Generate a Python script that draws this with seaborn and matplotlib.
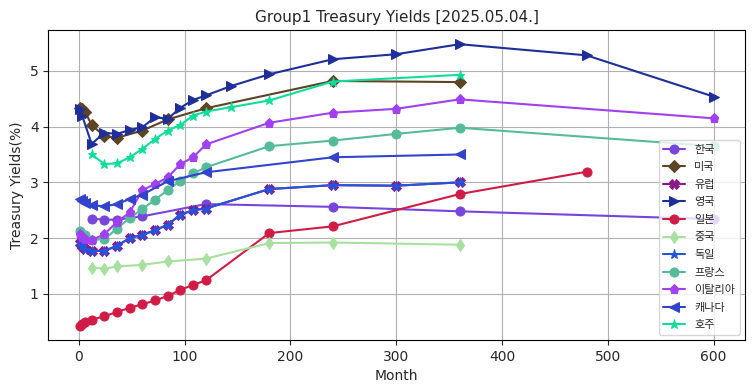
import matplotlib
matplotlib.use("Agg")
import matplotlib.pyplot as plt
import seaborn as sns

sns.set_style("white")
plt.rcParams['font.family'] = ['DejaVu Sans', 'Noto Sans CJK KR']

# months / yields (%) per country
kr_m = [12, 24, 36, 60, 120, 240, 360, 600]
kr_y = [2.35, 2.33, 2.33, 2.39, 2.61, 2.56, 2.48, 2.34]

us_m = [1, 3, 6, 12, 24, 36, 60, 84, 120, 240, 360]
us_y = [4.33, 4.31, 4.26, 4.03, 3.83, 3.80, 3.93, 4.13, 4.33, 4.82, 4.80]

de_m = [1, 3, 6, 12, 24, 36, 48, 60, 72, 84, 96, 108, 120, 180, 240, 300, 360]
de_y = [1.91, 1.86, 1.81, 1.77, 1.77, 1.86, 2.00, 2.06, 2.14, 2.24, 2.42, 2.50, 2.53, 2.88, 2.95, 2.94, 3.00]
eu_m = de_m
eu_y = de_y

uk_m = [1, 3, 12, 24, 36, 48, 60, 72, 84, 96, 108, 120, 144, 180, 240, 300, 360, 480, 600]
uk_y = [4.32, 4.20, 3.69, 3.89, 3.87, 3.94, 3.99, 4.17, 4.14, 4.34, 4.48, 4.56, 4.73, 4.94, 5.21, 5.30, 5.48, 5.28, 4.54]

jp_m = [1, 3, 6, 12, 24, 36, 48, 60, 72, 84, 96, 108, 120, 180, 240, 360, 480]
jp_y = [0.42, 0.45, 0.49, 0.53, 0.60, 0.67, 0.75, 0.81, 0.88, 0.96, 1.07, 1.16, 1.24, 2.09, 2.21, 2.79, 3.19]

cn_m = [12, 24, 36, 60, 84, 120, 180, 240, 360]
cn_y = [1.47, 1.45, 1.49, 1.52, 1.58, 1.63, 1.91, 1.92, 1.88]

fr_m = [1, 6, 12, 24, 36, 48, 60, 72, 84, 96, 108, 120, 180, 240, 300, 360, 600]
fr_y = [2.13, 2.05, 1.97, 1.98, 2.17, 2.36, 2.52, 2.69, 2.86, 3.03, 3.16, 3.27, 3.65, 3.75, 3.87, 3.98, 3.65]

it_m = [1, 3, 6, 12, 24, 36, 48, 60, 72, 84, 96, 108, 120, 180, 240, 300, 360, 600]
it_y = [2.08, 2.02, 1.98, 1.96, 2.07, 2.29, 2.46, 2.86, 2.97, 3.09, 3.33, 3.45, 3.68, 4.07, 4.25, 4.32, 4.49, 4.15]

ca_m = [1, 3, 6, 12, 24, 36, 48, 60, 84, 120, 240, 360]
ca_y = [2.71, 2.67, 2.63, 2.59, 2.57, 2.61, 2.70, 2.78, 3.02, 3.18, 3.45, 3.50]

au_m = [12, 24, 36, 48, 60, 72, 84, 96, 108, 120, 144, 180, 240, 360]
au_y = [3.50, 3.33, 3.34, 3.45, 3.60, 3.78, 3.93, 4.03, 4.20, 4.27, 4.35, 4.47, 4.81, 4.93]

series = [
    ('한국', kr_m, kr_y, '#7744dd', 'o'),
    ('미국', us_m, us_y, '#5c4425', 'D'),
    ('유럽', eu_m, eu_y, '#8b1a8b', 'X'),
    ('영국', uk_m, uk_y, '#1f2f99', '>'),
    ('일본', jp_m, jp_y, '#d01c45', 'o'),
    ('중국', cn_m, cn_y, '#a8e0a0', 'd'),
    ('독일', de_m, de_y, '#2255dd', '*'),
    ('프랑스', fr_m, fr_y, '#55bb99', 'o'),
    ('이탈리아', it_m, it_y, '#a040f0', 'p'),
    ('캐나다', ca_m, ca_y, '#3344cc', '<'),
    ('호주', au_m, au_y, '#11dd99', '*'),
]

fig, ax = plt.subplots(figsize=(7.55, 3.91), dpi=100)
fig.subplots_adjust(left=0.064, right=0.987, bottom=0.130, top=0.923)

for name, m, y, c, mk in series:
    sns.lineplot(x=m, y=y, ax=ax, color=c, marker=mk, markersize=6.5,
                 markeredgecolor=c, linewidth=1.5, label=name)

ax.grid(True, color='#b0b0b0', linewidth=0.8)
ax.set_title('Group1 Treasury Yields [2025.05.04.]', fontsize=11)
ax.set_xlabel('Month', fontsize=10)
ax.set_ylabel('Treasury Yields(%)', fontsize=10)
ax.tick_params(labelsize=10, length=3.5, left=True, bottom=True)
for s in ax.spines.values():
    s.set_color('black')
ax.legend(loc='lower right', fontsize=8, labelspacing=0.68)

fig.savefig('out.png', dpi=100)
